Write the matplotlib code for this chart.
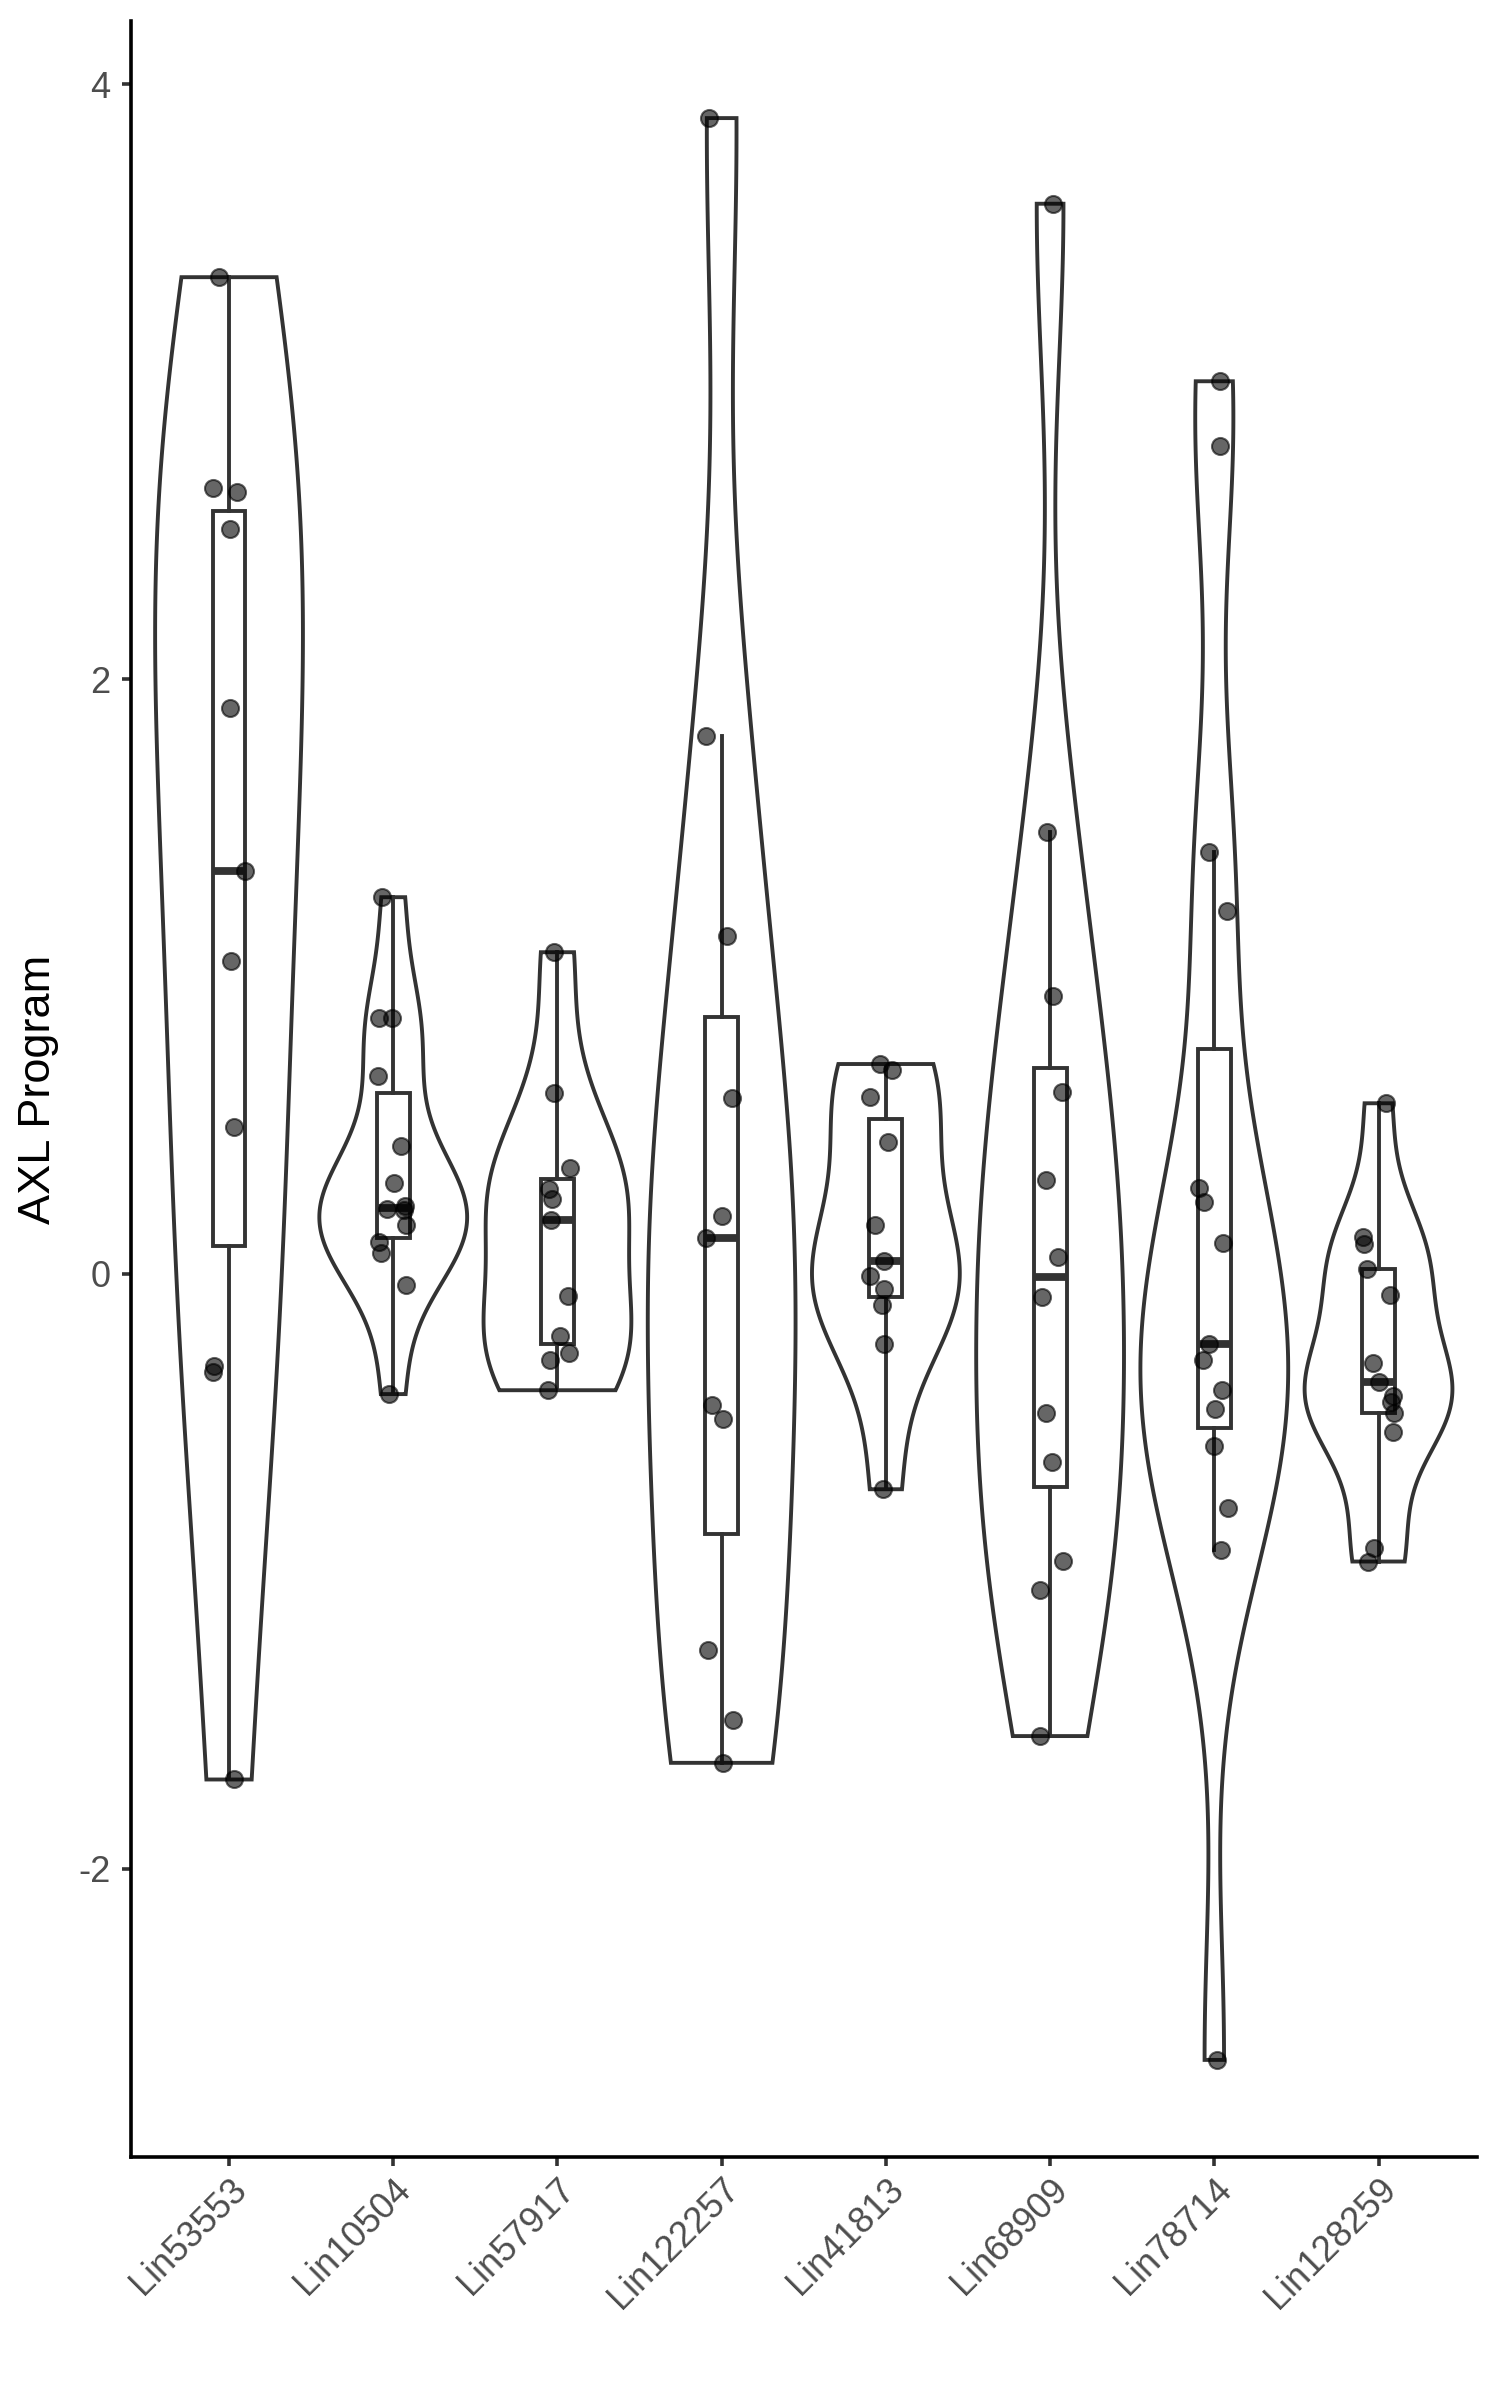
import numpy as np
import matplotlib
matplotlib.use("Agg")
import matplotlib.pyplot as plt

plt.rcParams['font.family'] = ['Liberation Sans', 'DejaVu Sans']
plt.rcParams['axes.unicode_minus'] = False

##~~~~~~~~ Data ~~~~~~~~
lineages = ["Lin53553", "Lin10504", "Lin57917", "Lin122257",
            "Lin41813", "Lin68909", "Lin78714", "Lin128259"]

lin53553 = [3.352, 2.642, 2.628, 2.505, 1.904, 1.356, 1.054, 0.495, -0.309, -0.331, -1.700]
lin10504 = [1.267, 0.860, 0.860, 0.666, 0.430, 0.305, 0.229, 0.218, 0.215, 0.164,
            0.108, 0.070, -0.037, -0.404]
lin57917 = [1.082, 0.609, 0.356, 0.286, 0.252, 0.182, -0.073, -0.208, -0.266, -0.289, -0.391]
lin122257 = [3.887, 1.808, 1.138, 0.592, 0.194, 0.121, -0.440, -0.488, -1.264, -1.500, -1.644]
lin41813 = [0.706, 0.686, 0.596, 0.443, 0.165, 0.044, -0.006, -0.051, -0.104, -0.234, -0.724]
lin68909 = [3.599, 1.486, 0.936, 0.611, 0.316, 0.058, -0.079, -0.467, -0.632, -0.965,
            -1.063, -1.554]
lin78714 = [3.002, 2.785, 1.418, 1.222, 0.288, 0.241, 0.105, -0.234, -0.288, -0.390,
            -0.453, -0.580, -0.786, -0.928, -2.643]
lin128259 = [0.574, 0.123, 0.101, 0.016, -0.070, -0.301, -0.363, -0.410, -0.432, -0.466,
             -0.530, -0.922, -0.967]

# horizontal jitter of each point (category units), as seen in the picture
jit53553 = [-0.059, -0.095, 0.047, 0.006, 0.006, 0.097, 0.010, 0.030, -0.089, -0.095, 0.031]
jit10504 = [-0.069, -0.089, -0.008, -0.095, 0.047, 0.002, 0.073, -0.039, 0.067, 0.075,
            -0.089, -0.075, 0.075, -0.028]
jit57917 = [-0.022, -0.018, 0.079, -0.053, -0.033, -0.039, 0.065, 0.018, 0.071, -0.043, -0.057]
jit122257 = [-0.079, -0.097, 0.030, 0.065, 0.000, -0.096, -0.059, 0.006, -0.082, 0.071, 0.006]
jit41813 = [-0.035, 0.037, -0.096, 0.012, -0.069, -0.009, -0.096, -0.010, -0.024, -0.009, -0.020]
jit68909 = [0.018, -0.020, 0.020, 0.075, -0.026, 0.047, -0.049, -0.026, 0.014, 0.081,
            -0.061, -0.061]
jit78714 = [0.034, 0.034, -0.030, 0.075, -0.095, -0.061, 0.051, -0.032, -0.067, 0.049,
            0.004, -0.002, 0.082, 0.041, 0.015]
jit128259 = [0.045, -0.097, -0.091, -0.069, 0.071, -0.034, 0.004, 0.087, 0.075, 0.095,
             0.091, -0.026, -0.067]

values = [lin53553, lin10504, lin57917, lin122257, lin41813, lin68909, lin78714, lin128259]
jitter = [jit53553, jit10504, jit57917, jit122257, jit41813, jit68909, jit78714, jit128259]
##~~~~~~~~~~~~~~~~~~~~~~~~~~~~~~~~~~~~~~~~~~~~~~~

LINE = '#333333'
TXT = '#4D4D4D'
LW = 2.8


def bw_nrd0(x):
    # same rule of thumb as R's bw.nrd0
    x = np.asarray(x)
    q75, q25 = np.percentile(x, [75, 25])
    lo = min(np.std(x, ddof=1), (q75 - q25) / 1.34)
    if lo == 0:
        lo = np.std(x, ddof=1) or abs(x[0]) or 1.0
    return 0.9 * lo * len(x) ** -0.2


def violin_outline(x, n=512):
    x = np.asarray(x)
    bw = bw_nrd0(x)
    grid = np.linspace(x.min(), x.max(), n)
    dens = np.exp(-0.5 * ((grid[:, None] - x[None, :]) / bw) ** 2).sum(axis=1)
    return grid, dens / dens.max()


fig = plt.figure(figsize=(15, 24), dpi=100)
ax = fig.add_axes([0.087, 0.10125, 0.8977, 0.89])

# violins (scale = "width", trimmed to data range)
for i, v in enumerate(values):
    yy, d = violin_outline(v)
    hw = 0.45 * d
    xs = np.concatenate([i - hw, (i + hw)[::-1]])
    ys = np.concatenate([yy, yy[::-1]])
    ax.fill(xs, ys, facecolor='white', edgecolor=LINE, lw=LW, zorder=1,
            joinstyle='miter')

# boxplots
ax.boxplot(values, positions=range(len(values)), widths=0.2, whis=1.5,
           showcaps=False, showfliers=False, patch_artist=True,
           boxprops=dict(facecolor='white', edgecolor=LINE, lw=LW),
           whiskerprops=dict(color=LINE, lw=LW),
           medianprops=dict(color=LINE, lw=LW * 2, solid_capstyle='butt'),
           zorder=2, manage_ticks=False)

# jittered points
for i, (v, j) in enumerate(zip(values, jitter)):
    ax.scatter(i + np.asarray(j), v, s=150, color='black', alpha=0.6,
               linewidths=1.5, zorder=3)

allv = np.concatenate([np.asarray(v) for v in values])
rng = allv.max() - allv.min()
ax.set_ylim(allv.min() - 0.05 * rng, allv.max() + 0.05 * rng)
ax.set_xlim(-0.6, len(values) - 0.4)

ax.set_xticks(range(len(lineages)))
ax.set_xticklabels(lineages, rotation=45, ha='right', va='top',
                   rotation_mode='anchor', fontsize=26, color=TXT)
ax.set_yticks([-2, 0, 2, 4])
ax.set_yticklabels(['-2', '0', '2', '4'], fontsize=26, color=TXT)
ax.tick_params(axis='both', length=6.5, width=2.6, color=LINE)
ax.tick_params(axis='x', pad=4)
ax.tick_params(axis='y', pad=8)

for side in ['top', 'right']:
    ax.spines[side].set_visible(False)
for side in ['left', 'bottom']:
    ax.spines[side].set_linewidth(2.6)
    ax.spines[side].set_color('black')

fig.text(39 / 1500, 1 - 1089 / 2400, 'AXL Program', rotation=90,
         ha='center', va='center', fontsize=32.5, color='black')

fig.savefig('out.png', dpi=100)
